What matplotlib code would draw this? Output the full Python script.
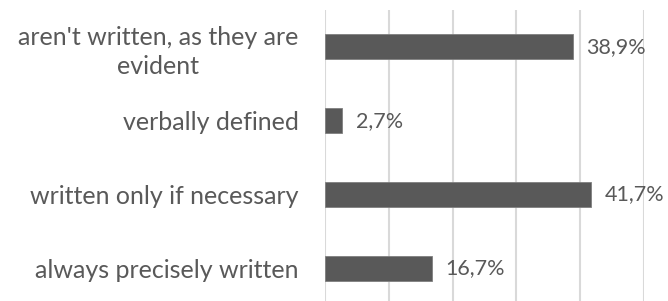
import matplotlib.pyplot as plt

# Dati (dall'alto verso il basso)
categorie = ["aren't written, as they are\nevident", "verbally defined",
             "written only if necessary", "always precisely written"]
valori = [38.9, 2.7, 41.7, 16.7]
ticks_x = [0, 10, 20, 30, 40, 50]

grigio_testo = "#595959"
grigio_barre = "#595959"
grigio_griglia = "#d9d9d9"

plt.rcParams['font.family'] = ['Lato', 'DejaVu Sans']

fig = plt.figure(figsize=(6.68, 3.01), dpi=100)
ax = fig.add_axes([325 / 668, -4 / 301, 319 / 668, 295 / 301])

pos = list(range(len(categorie)))
ax.barh(pos, valori, height=0.34, color=grigio_barre, edgecolor="#7f7f7f", linewidth=0.6, zorder=3)
ax.set_ylim(len(categorie) - 0.5, -0.5)
ax.set_xlim(ticks_x[0], ticks_x[-1])
ax.set_xticks(ticks_x)
ax.xaxis.grid(True, color=grigio_griglia, linewidth=1.5, zorder=0)
ax.tick_params(axis='x', length=0, labelbottom=False)
ax.tick_params(axis='y', length=0, pad=19)
ax.set_yticks(pos)
ax.set_yticklabels(categorie, fontsize=18, color=grigio_testo, multialignment='center',
                   linespacing=1.3)
for s in ax.spines.values():
    s.set_visible(False)

# Etichette dei valori con la virgola decimale
for p, v in zip(pos, valori):
    ax.text(v + 2.1, p, f"{v:.1f}%".replace(".", ","), va='center', ha='left',
            fontsize=15.5, color=grigio_testo, clip_on=False)

fig.savefig("out.png", dpi=100)
